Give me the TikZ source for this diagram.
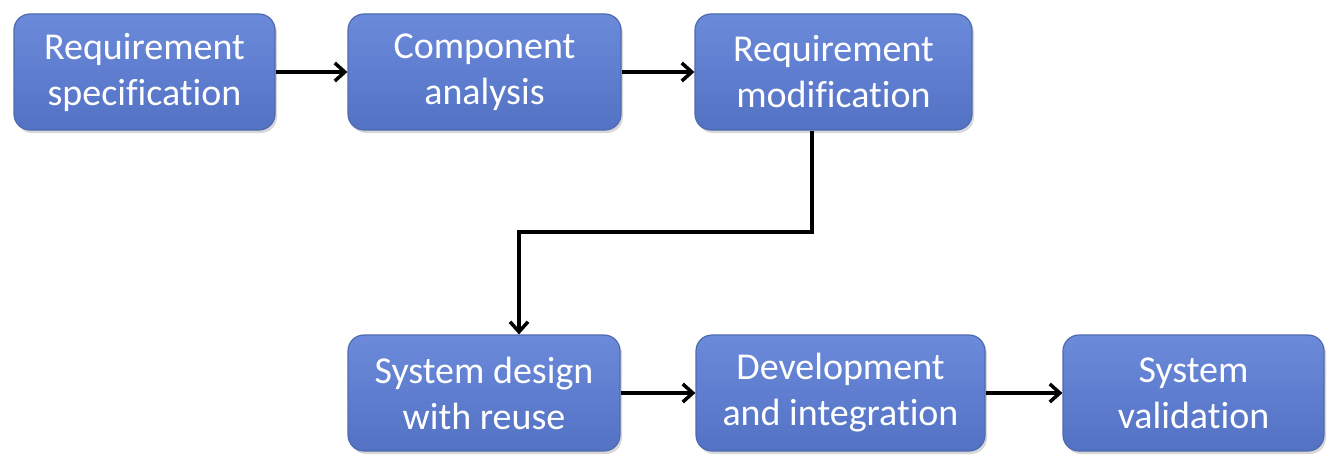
\documentclass[tikz,border=0pt]{standalone}
\usepackage{fontspec}
\setmainfont{Carlito}[Ligatures=NoCommon]
\usetikzlibrary{arrows.meta,shadows}
\definecolor{boxtop}{RGB}{108,138,218}
\definecolor{boxbot}{RGB}{84,114,196}
\definecolor{boxline}{RGB}{78,106,176}
\begin{document}
\begin{tikzpicture}
[x=1pt,y=-1pt, b/.style={rectangle,rounded corners=16pt,draw=boxline,line width=1.2pt,top color=boxtop,bottom color=boxbot,
drop shadow={shadow xshift=2pt,shadow yshift=-3pt,fill=black!30,opacity=.5},text=white,align=center,inner sep=0pt,
minimum height=116pt,font=\fontsize{38}{46}\selectfont}, a/.style={line width=4pt,-{Straight Barb[length=10pt,width=18pt,line width=3.5pt]}}]
\useasboundingbox (0,0) rectangle (1337,468);
\node(rs) at (144.5,72)[b,minimum width=261pt]{Requirement\\specification};
\node(ca) at (484.5,72)[b,minimum width=273pt]{Component\\analysis};
\node(rm) at (833.5,72)[b,minimum width=277pt]{Requirement\\modification};
\node(sd) at (484,393)[b,minimum width=272pt]{System design\\with reuse};
\node(di) at (840.5,393)[b,minimum width=289pt]{Development\\and integration};
\node(sv) at (1193.5,393)[b,minimum width=261pt]{System\\validation};
\coordinate(c1) at (812,232);\coordinate(c2) at (519,232);
\draw[a](rs)--(ca);\draw[a](ca)--(rm);\draw[a](sd)--(di);\draw[a](di)--(sv);
\draw[a](rm.south -| c1)--(c1)--(c2)--(sd.north -| c2);\end{tikzpicture}
\end{document}
